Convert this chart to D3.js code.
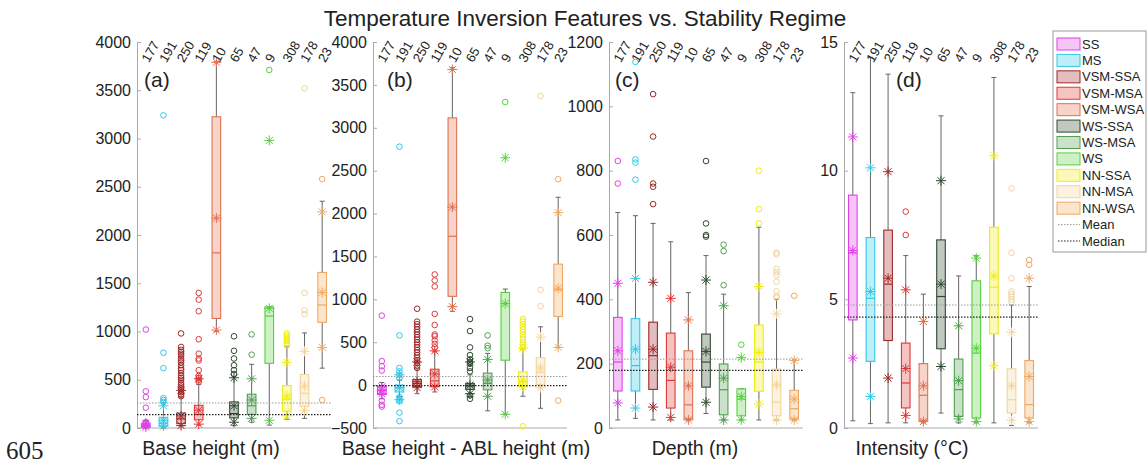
<!DOCTYPE html>
<html lang="en">
<head>
<meta charset="UTF-8">
<title>Temperature Inversion Features vs. Stability Regime</title>
<script src="https://cdn.jsdelivr.net/npm/d3@7"></script>
<style>
  body { margin: 0; background: #fff; }
  text { fill: #222; }
</style>
</head>
<body>
<svg id="chart" width="1147" height="464" font-family="'Liberation Sans', Arial, Helvetica, sans-serif"></svg>
<script>
// categories
const groups = ["SS", "MS", "VSM-SSA", "VSM-MSA", "VSM-WSA", "WS-SSA", "WS-MSA", "WS", "NN-SSA", "NN-MSA", "NN-WSA"];
const counts = [177, 191, 250, 119, 10, 65, 47, 9, 308, 178, 23];
const colors = ["#e040e8", "#30c8e8", "#a02828", "#e03838", "#e07050", "#2f4a2f", "#50a050", "#58d040", "#f0ec10", "#f2d49a", "#f0a860"];

// (a) base height (m)
const aLow = [0, 0, 20, 30, 1000, 25, 60, 30, 90, 100, 620];
const aQ1 = [10, 20, 45, 85, 1135, 105, 140, 670, 175, 225, 1095];
const aMed = [20, 50, 95, 140, 1815, 150, 230, 1160, 300, 360, 1275];
const aQ3 = [40, 110, 155, 235, 3225, 270, 350, 1255, 440, 555, 1612];
const aHigh = [80, 260, 320, 450, 3795, 530, 660, 1255, 840, 985, 2350];
const aMean = [30, 80, 125, 185, 2175, 230, 290, 1240, 330, 435, 1405];
const aStarLo = [10, 20, 25, 40, 1015, 60, 100, 80, 125, 180, 835];
const aStarHi = [50, 230, 390, 510, 3790, 520, 510, 2980, 680, 795, 2240];
const aOut = [
  [1020, 380, 320, 210, 60, 40],
  [3240, 780, 620, 310, 290, 270],
  [330, 350, 370, 390, 410, 430, 450, 470, 500, 520, 540, 570, 600, 620, 650, 680, 700, 720, 750, 770, 790, 810, 840, 980],
  [480, 500, 520, 540, 600, 700, 720, 770, 920, 1210, 1330, 1400],
  [],
  [560, 600, 650, 720, 800, 950],
  [760, 970],
  [3710],
  [860, 880, 900, 920, 940, 960, 980],
  [1180, 1220, 1400, 3520],
  [2580, 290]
];
const aLines = [259, 138]; // mean, median

// (b) base height - ABL height (m)
const bLow = [-160, -130, -100, -80, 860, -100, -300, -340, -130, -270, 440];
const bQ1 = [-110, -80, -15, -15, 1035, -50, -55, 290, -15, 5, 800];
const bMed = [-60, -30, 20, 50, 1735, -10, 20, 950, 40, 150, 1110];
const bQ3 = [-10, 0, 65, 185, 3115, 20, 140, 1080, 155, 320, 1410];
const bHigh = [30, 60, 190, 390, 3700, 120, 370, 1120, 420, 680, 2190];
const bMean = [-60, -30, 40, 130, 2075, 0, 60, 950, 60, 200, 1130];
const bStarLo = [-100, -170, -30, -20, 915, -100, -130, -340, -20, -30, 440];
const bStarHi = [-20, 120, 270, 400, 3680, 270, 300, 2650, 430, 560, 2010];
const bOut = [
  [810, 280, 220, 170, -180, -230, -250],
  [2780, 580, 200, 160, 120, 80, -140, -170, -190, -320, -420],
  [200, 230, 260, 290, 320, 350, 380, 410, 440, 470, 500, 530, 560, 590, 620, 650, 680, 710, 740, 890],
  [440, 480, 520, 570, 590, 700, 830, 1150, 1220, 1290],
  [],
  [770, 630, 440, 350, 300, 270, 250, 200, 160, -120, -160],
  [430, 460, 580],
  [3300],
  [440, 470, 500, 530, 560, 590, 620, 650, 680, 710, 740, 770, -480],
  [920, 1110, 3370],
  [2400, -180]
];
const bLines = [100, -5];

// (c) depth (m)
const cLow = [25, 30, 25, 25, 25, 45, 25, 25, 25, 25, 25];
const cQ1 = [115, 115, 120, 62, 28, 127, 41, 38, 114, 38, 29];
const cMed = [205, 194, 225, 148, 72, 205, 119, 90, 205, 80, 60];
const cQ3 = [344, 340, 329, 295, 240, 292, 199, 122, 320, 183, 117];
const cHigh = [670, 660, 636, 579, 421, 536, 416, 122, 624, 400, 210];
const cMean = [240, 245, 245, 189, 131, 238, 155, 98, 235, 134, 90];
const cStarLo = [78, 62, 65, 33, 25, 80, 25, 25, 75, 25, 25];
const cStarHi = [450, 465, 453, 403, 336, 460, 380, 219, 440, 355, 210];
const cOut = [
  [760, 830],
  [772, 825, 835, 1138],
  [696, 750, 760, 906, 1038],
  [],
  [],
  [595, 600, 636, 830],
  [444, 550, 570],
  [259],
  [636, 680, 800],
  [405, 410, 425, 455, 475, 485, 495, 540, 545],
  [411]
];
const cLines = [214, 179];

// (d) intensity (°C)
const dLow = [0.28, 0.17, 0.2, 0.2, 0.2, 0.58, 0.2, 0.2, 0.2, 0.1, 0.2];
const dQ1 = [4.2, 2.59, 3.4, 0.78, 0.3, 3.08, 0.45, 0.39, 3.66, 0.58, 0.39];
const dMed = [6.81, 5.04, 5.59, 1.75, 1.27, 5.11, 1.49, 2.91, 5.47, 1.1, 0.91];
const dQ3 = [9.05, 7.4, 7.69, 3.3, 2.5, 7.31, 2.68, 5.72, 7.8, 2.3, 2.62];
const dHigh = [13.03, 14.4, 13.75, 6.7, 5.2, 12.13, 5.91, 6.69, 13.62, 4.78, 5.5];
const dMean = [6.9, 5.3, 5.82, 2.31, 1.64, 5.59, 1.84, 3.1, 5.91, 1.64, 2.0];
const dStarLo = [2.72, 1.23, 1.94, 0.49, 0.25, 2.39, 0.35, 0.25, 2.42, 0.3, 0.25];
const dStarHi = [11.31, 10.11, 9.96, 5.37, 4.14, 9.61, 3.97, 6.6, 10.58, 3.72, 5.82];
const dOut = [[], [], [], [7.5, 8.41], [], [], [], [], [], [4.9, 5.0, 5.1, 5.2, 5.3, 5.82, 6.81, 9.31], [6.34, 6.53]];
const dLines = [4.78, 4.31];

const svg = d3.select("#chart");
const plotTop = 42, plotBottom = 428, panelW = 194;

// asterisk marker
const r = 5, k = r * 0.7;
const star = `M${-r},0L${r},0M0,${-r}L0,${r}M${-k},${-k}L${k},${k}M${-k},${k}L${k},${-k}`;

const panels = [
  { x0: 137, domain: [0, 4000], ticks: d3.range(0, 4001, 500), low: aLow, q1: aQ1, med: aMed, q3: aQ3, high: aHigh, mean: aMean, sLo: aStarLo, sHi: aStarHi, out: aOut, lines: aLines, tag: "(a)", tagX: 144, title: "Base height (m)", titleX: 211 },
  { x0: 373, domain: [-500, 4000], ticks: d3.range(-500, 4001, 500), low: bLow, q1: bQ1, med: bMed, q3: bQ3, high: bHigh, mean: bMean, sLo: bStarLo, sHi: bStarHi, out: bOut, lines: bLines, tag: "(b)", tagX: 387, title: "Base height - ABL height (m)", titleX: 466 },
  { x0: 609, domain: [0, 1200], ticks: d3.range(0, 1201, 200), low: cLow, q1: cQ1, med: cMed, q3: cQ3, high: cHigh, mean: cMean, sLo: cStarLo, sHi: cStarHi, out: cOut, lines: cLines, tag: "(c)", tagX: 615, title: "Depth (m)", titleX: 695 },
  { x0: 844, domain: [0, 15], ticks: [0, 5, 10, 15], low: dLow, q1: dQ1, med: dMed, q3: dQ3, high: dHigh, mean: dMean, sLo: dStarLo, sHi: dStarHi, out: dOut, lines: dLines, tag: "(d)", tagX: 896, title: "Intensity (°C)", titleX: 912 }
];

panels.forEach(drawPanel);

function drawPanel(p) {
  let x = d3.scaleBand().domain(groups).range([p.x0, p.x0 + panelW]);
  let y = d3.scaleLinear().domain(p.domain).range([plotBottom, plotTop]);
  let g = svg.append("g");
  let bw = 8.6;
  let cx = i => x(groups[i]) + x.bandwidth() / 2;

  // axes
  let ax = g.append("g").attr("transform", `translate(${p.x0},0)`)
    .call(d3.axisLeft(y).tickValues(p.ticks).tickFormat(d3.format("d"))
      .tickSizeInner(-4).tickSizeOuter(0).tickPadding(6));
  ax.selectAll("path, line").attr("stroke", "#aaa");
  ax.selectAll("text").attr("font-size", 16).attr("fill", "#222");
  ax.attr("font-family", null);
  g.append("line").attr("x1", p.x0).attr("x2", p.x0 + panelW)
    .attr("y1", plotBottom).attr("y2", plotBottom).attr("stroke", "#aaa");

  let box = g.selectAll(".bx").data(groups).enter().append("g");
  // whiskers
  box.append("line").attr("x1", (d, i) => cx(i)).attr("x2", (d, i) => cx(i))
    .attr("y1", (d, i) => y(p.q3[i])).attr("y2", (d, i) => y(p.high[i])).attr("stroke", "#666");
  box.append("line").attr("x1", (d, i) => cx(i)).attr("x2", (d, i) => cx(i))
    .attr("y1", (d, i) => y(p.q1[i])).attr("y2", (d, i) => y(p.low[i])).attr("stroke", "#666");
  box.append("line").attr("x1", (d, i) => cx(i) - 2.5).attr("x2", (d, i) => cx(i) + 2.5)
    .attr("y1", (d, i) => y(p.high[i])).attr("y2", (d, i) => y(p.high[i])).attr("stroke", "#666");
  box.append("line").attr("x1", (d, i) => cx(i) - 2.5).attr("x2", (d, i) => cx(i) + 2.5)
    .attr("y1", (d, i) => y(p.low[i])).attr("y2", (d, i) => y(p.low[i])).attr("stroke", "#666");
  // boxes
  box.append("rect").attr("x", (d, i) => cx(i) - bw / 2).attr("width", bw)
    .attr("y", (d, i) => y(p.q3[i])).attr("height", (d, i) => Math.max(1, y(p.q1[i]) - y(p.q3[i])))
    .attr("fill", (d, i) => colors[i]).attr("fill-opacity", 0.3)
    .attr("stroke", (d, i) => colors[i]).attr("stroke-width", 1.1);
  box.append("line").attr("x1", (d, i) => cx(i) - bw / 2).attr("x2", (d, i) => cx(i) + bw / 2)
    .attr("y1", (d, i) => y(p.med[i])).attr("y2", (d, i) => y(p.med[i]))
    .attr("stroke", (d, i) => colors[i]).attr("stroke-width", 1.2);

  // outliers and stars
  groups.forEach((gname, i) => {
    g.selectAll(null).data(p.out[i]).enter().append("circle")
      .attr("cx", cx(i)).attr("cy", v => y(v)).attr("r", 2.8)
      .attr("fill", "none").attr("stroke", colors[i]).attr("stroke-width", 1);
    g.selectAll(null).data([p.sLo[i], p.mean[i], p.sHi[i]]).enter().append("path")
      .attr("d", star).attr("transform", v => `translate(${cx(i)},${y(v)})`)
      .attr("fill", "none").attr("stroke", colors[i]).attr("stroke-width", 1);
    g.append("circle").attr("cx", cx(i)).attr("cy", y(p.mean[i])).attr("r", 1).attr("fill", colors[i]);
  });

  // mean / median reference lines
  g.append("line").attr("x1", p.x0).attr("x2", p.x0 + panelW)
    .attr("y1", y(p.lines[0])).attr("y2", y(p.lines[0]))
    .attr("stroke", "#999").attr("stroke-dasharray", "1.5,1.5");
  g.append("line").attr("x1", p.x0).attr("x2", p.x0 + panelW)
    .attr("y1", y(p.lines[1])).attr("y2", y(p.lines[1]))
    .attr("stroke", "#222").attr("stroke-width", 1.3).attr("stroke-dasharray", "1.5,1.5");

  // counts on top
  g.selectAll(".cnt").data(counts).enter().append("text")
    .attr("transform", (d, i) => `translate(${cx(i) - 1},${61}) rotate(-60)`)
    .attr("dy", "0.35em").attr("font-size", 13).text(d => d);

  g.append("text").attr("x", p.tagX).attr("y", 87).attr("font-size", 21).text(p.tag);
  g.append("text").attr("x", p.titleX).attr("y", 455).attr("text-anchor", "middle")
    .attr("font-size", 19.5).text(p.title);
}

// title
svg.append("text").attr("x", 585).attr("y", 26).attr("text-anchor", "middle")
  .attr("font-size", 22.5).text("Temperature Inversion Features vs. Stability Regime");
svg.append("text").attr("x", 6).attr("y", 459).attr("font-size", 25)
  .style("font-family", "'Liberation Serif', 'Times New Roman', serif").text("605");

// legend
let lg = svg.append("g");
lg.append("rect").attr("x", 1053).attr("y", 31).attr("width", 93).attr("height", 221)
  .attr("fill", "#fff").attr("stroke", "#999");
let ly = d3.scaleLinear().domain([0, 12]).range([44, 241]);
groups.forEach((name, i) => {
  lg.append("rect").attr("x", 1057).attr("y", ly(i) - 6).attr("width", 23).attr("height", 12)
    .attr("fill", colors[i]).attr("fill-opacity", 0.3).attr("stroke", colors[i]);
  lg.append("text").attr("x", 1082).attr("y", ly(i)).attr("dy", "0.35em").attr("font-size", 13).text(name);
});
[["Mean", "#999"], ["Median", "#222"]].forEach((m, j) => {
  let yy = ly(11 + j);
  lg.append("line").attr("x1", 1058).attr("x2", 1080).attr("y1", yy).attr("y2", yy)
    .attr("stroke", m[1]).attr("stroke-dasharray", "1.5,1.5");
  lg.append("text").attr("x", 1082).attr("y", yy).attr("dy", "0.35em").attr("font-size", 13).text(m[0]);
});
</script>
</body>
</html>
